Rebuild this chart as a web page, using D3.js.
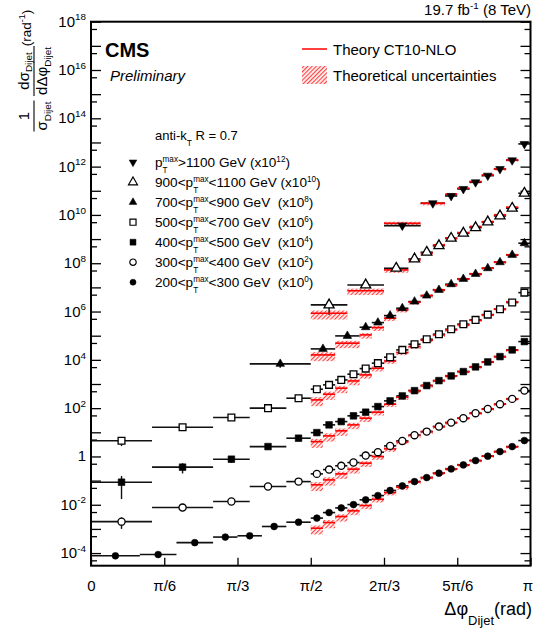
<!DOCTYPE html>
<html>
<head>
<meta charset="utf-8">
<script src="https://cdn.jsdelivr.net/npm/d3@7"></script>
<style>
body { margin: 0; background: #fff; }
text { font-family: "Liberation Sans", Arial, Helvetica, sans-serif; fill: #000; }
</style>
</head>
<body>
<div class="chart"></div>
<script>
// bin edges are in units of pi/36
const edges200 = [0, 4, 7, 10, 12, 14, 16, 18, 19, 20, 21, 22, 23, 24, 25, 26, 27, 28, 29, 30, 31, 32, 33, 34, 35, 36];
const edges300 = [0, 5, 10, 13, 16, 18, 19, 20, 21, 22, 23, 24, 25, 26, 27, 28, 29, 30, 31, 32, 33, 34, 35, 36];
const edges400 = [0, 5, 10, 13, 16, 18, 19, 20, 21, 22, 23, 24, 25, 26, 27, 28, 29, 30, 31, 32, 33, 34, 35, 36];
const edges500 = [0, 5, 10, 13, 16, 18, 19, 20, 21, 22, 23, 24, 25, 26, 27, 28, 29, 30, 31, 32, 33, 34, 35, 36];
const edges700 = [13, 18, 20, 22, 23, 24, 25, 26, 27, 28, 29, 30, 31, 32, 33, 34, 35, 36];
const edges900 = [18, 21, 24, 26, 27, 28, 29, 30, 31, 32, 33, 34, 35, 36];
const edges1100 = [24, 27, 29, 30, 31, 32, 33, 34, 35, 36];

// measured normalised cross sections (before the x10^n offsets)
const data200 = [7.7e-5, 8.7e-5, 2.7e-4, 4.6e-4, 5.2e-4, 1.26e-3, 1.9e-3, 2.8e-3, 4.75e-3, 7.4e-3, 1.02e-2, 1.6e-2, 2.4e-2, 3.9e-2, 6.05e-2, 9.1e-2, 0.134, 0.203, 0.306, 0.448, 0.675, 1.03, 1.59, 2.56, 4.54];
const data300 = [2.0e-5, 7.65e-5, 1.36e-4, 5.7e-4, 9.1e-4, 1.9e-3, 2.86e-3, 4.1e-3, 5.6e-3, 1.09e-2, 1.5e-2, 2.74e-2, 4.4e-2, 7.6e-2, 0.107, 0.173, 0.252, 0.384, 0.618, 0.93, 1.46, 2.42, 5.33];
const data400 = [8.6e-6, 3.6e-5, 7.7e-5, 2.56e-4, 5.7e-4, 9.7e-4, 2.03e-3, 2.78e-3, 4.8e-3, 6.8e-3, 1.16e-2, 2.0e-2, 3.2e-2, 5.3e-2, 8.6e-2, 0.138, 0.216, 0.326, 0.51, 0.82, 1.36, 2.58, 5.7];
const data500 = [4.5e-6, 1.63e-5, 4.1e-5, 1.0e-4, 2.58e-4, 6.1e-4, 9.2e-4, 1.48e-3, 2.55e-3, 4.34e-3, 7.3e-3, 1.29e-2, 2.58e-2, 4.44e-2, 7.1e-2, 0.115, 0.185, 0.3, 0.45, 0.745, 1.25, 2.38, 6.07];
const data700 = [6.8e-5, 2.84e-4, 9.8e-4, 2.24e-3, 3.48e-3, 6.8e-3, 1.37e-2, 2.58e-2, 4.56e-2, 7.85e-2, 0.135, 0.224, 0.36, 0.62, 1.1, 2.21, 6.73];
const data900 = [1.88e-4, 1.26e-3, 6.2e-3, 1.5e-2, 2.85e-2, 5.35e-2, 0.108, 0.175, 0.298, 0.51, 0.91, 1.89, 7.9];
const data1100 = [3.6e-3, 3.04e-2, 6.1e-2, 0.119, 0.225, 0.423, 0.8, 1.83, 8.7];

// relative statistical errors
const err200 = [0.08, 0.08, 0.06, 0.05, 0.05, 0.05, 0.04, 0.03, 0.03, 0.03, 0.03, 0.03, 0.03, 0.03, 0.03, 0.03, 0.03, 0.03, 0.03, 0.03, 0.03, 0.03, 0.03, 0.03, 0.03];
const err300 = [0.5, 0.12, 0.08, 0.05, 0.05, 0.04, 0.04, 0.04, 0.03, 0.03, 0.03, 0.03, 0.03, 0.03, 0.03, 0.03, 0.03, 0.03, 0.03, 0.03, 0.03, 0.03, 0.03];
const err400 = [0.8, 0.45, 0.3, 0.06, 0.05, 0.05, 0.04, 0.04, 0.03, 0.03, 0.03, 0.03, 0.03, 0.03, 0.03, 0.03, 0.03, 0.03, 0.03, 0.03, 0.03, 0.03, 0.03];
const err500 = [0.4, 0.1, 0.06, 0.05, 0.04, 0.04, 0.04, 0.03, 0.03, 0.03, 0.03, 0.03, 0.03, 0.03, 0.03, 0.03, 0.03, 0.03, 0.03, 0.03, 0.03, 0.03, 0.03];
const err700 = [0.3, 0.1, 0.08, 0.05, 0.05, 0.04, 0.04, 0.03, 0.03, 0.03, 0.03, 0.03, 0.03, 0.03, 0.03, 0.03, 0.03];
const err900 = [0.62, 0.15, 0.08, 0.05, 0.04, 0.04, 0.03, 0.03, 0.03, 0.03, 0.03, 0.03, 0.03];
const err1100 = [0.3, 0.08, 0.05, 0.04, 0.03, 0.03, 0.03, 0.03, 0.03];

// CT10-NLO prediction, null where there is none
const theory200 = [null, null, null, null, null, null, null, 1.07e-3, 1.83e-3, 3.25e-3, 5.6e-3, 9.3e-3, 1.7e-2, 3.2e-2, 5.35e-2, 8.9e-2, 0.132, 0.203, 0.306, 0.448, 0.675, 1.03, 1.59, 2.5, null];
const theory300 = [null, null, null, null, null, 6.7e-4, 1.07e-3, 1.9e-3, 2.98e-3, 5.27e-3, 9.9e-3, 2.06e-2, 4.0e-2, 7.5e-2, 0.106, 0.172, 0.25, 0.38, 0.61, 0.92, 1.45, 2.4, null];
const theory400 = [null, null, null, null, null, 4.1e-4, 7.1e-4, 1.15e-3, 2.03e-3, 3.84e-3, 6.8e-3, 1.46e-2, 2.84e-2, 5.3e-2, 8.6e-2, 0.138, 0.216, 0.326, 0.51, 0.82, 1.36, 2.5, null];
const theory500 = [null, null, null, null, null, 2.2e-4, 3.78e-4, 6.7e-4, 1.34e-3, 2.38e-3, 4.5e-3, 9.0e-3, 2.0e-2, 3.53e-2, 6.5e-2, 0.107, 0.174, 0.28, 0.436, 0.724, 1.25, 2.51, null];
const theory700 = [null, 1.6e-4, 4.9e-4, 1.08e-3, 2.16e-3, 5.3e-3, 1.17e-2, 2.43e-2, 4.56e-2, 7.85e-2, 0.126, 0.224, 0.36, 0.62, 1.1, 2.21, null];
const theory900 = [8.5e-5, 7.3e-4, 5.3e-3, 1.37e-2, 2.6e-2, 5.7e-2, 0.108, 0.185, 0.327, 0.525, 1.0, 2.08, null];
const theory1100 = [4.5e-3, 3.04e-2, 7.2e-2, 0.127, 0.24, 0.452, 0.8, 1.89, null];

// theory uncertainty band, by bin from pi/2 (index = lower edge - 18)
const thUncUp = [0.30, 0.28, 0.25, 0.22, 0.20, 0.18, 0.16, 0.15, 0.14, 0.13, 0.13, 0.12, 0.12, 0.12, 0.12, 0.12, 0.12];
const thUncDown = [0.45, 0.42, 0.38, 0.34, 0.30, 0.27, 0.24, 0.22, 0.20, 0.18, 0.17, 0.16, 0.15, 0.15, 0.14, 0.14, 0.14];

// pT ranges (GeV) and the offsets used to spread them out
const ptLow = [null, 900, 700, 500, 400, 300, 200];
const ptHigh = [1100, 1100, 900, 700, 500, 400, 300];
const powers = [12, 10, 8, 6, 4, 2, 0];

const xTickLabels = ['0', 'π/6', 'π/3', 'π/2', '2π/3', '5π/6', 'π'];

const width = 534, height = 634;
const svg = d3.select('.chart').append('svg').attr('width', width).attr('height', height);

const x = d3.scaleLinear().domain([0, Math.PI]).range([91, 530.5]);
const y = d3.scaleLog().domain([3e-5, 1e18]).range([565.7, 21.7]);
const piBin = Math.PI / 36;

// one entry per series, top of the legend first
const series = [
    {edges: edges1100, vals: data1100, errs: err1100, theory: theory1100, marker: {type: d3.symbolTriangle, size: 32, open: false, rot: 180}},
    {edges: edges900, vals: data900, errs: err900, theory: theory900, marker: {type: d3.symbolTriangle, size: 44, open: true, rot: 0}},
    {edges: edges700, vals: data700, errs: err700, theory: theory700, marker: {type: d3.symbolTriangle, size: 32, open: false, rot: 0}},
    {edges: edges500, vals: data500, errs: err500, theory: theory500, marker: {type: d3.symbolSquare, size: 46, open: true, rot: 0}},
    {edges: edges400, vals: data400, errs: err400, theory: theory400, marker: {type: d3.symbolSquare, size: 44, open: false, rot: 0}},
    {edges: edges300, vals: data300, errs: err300, theory: theory300, marker: {type: d3.symbolCircle, size: 40, open: true, rot: 0}},
    {edges: edges200, vals: data200, errs: err200, theory: theory200, marker: {type: d3.symbolCircle, size: 36, open: false, rot: 0}}
];
series.forEach((s, i) => s.power = powers[i]);

// hatch pattern for the theory band
const defs = svg.append('defs');
const pat = defs.append('pattern').attr('id', 'hatch').attr('patternUnits', 'userSpaceOnUse')
    .attr('width', 3).attr('height', 3).attr('patternTransform', 'rotate(45)');
pat.append('rect').attr('width', 3).attr('height', 3).attr('fill', '#fff4f4');
pat.append('line').attr('x1', 0.6).attr('y1', 0).attr('x2', 0.6).attr('y2', 3)
    .attr('stroke', '#ff3b3b').attr('stroke-width', 1.1);

// text with sub/superscripts, pieces laid out one after the other
function rich(parent, parts, size, opts) {
    opts = opts || {};
    const small = size * (opts.small || 0.68);
    const supDy = -size * (opts.sup || 0.45);
    const subDy = size * (opts.sub || 0.4);
    const g = parent.append('g');
    let cx = 0;
    parts.forEach(p => {
        if (typeof p === 'string') {
            const t = g.append('text').attr('x', cx).attr('y', 0)
                .style('font-size', size + 'px').style('white-space', 'pre').text(p);
            cx += t.node().getComputedTextLength();
        } else {
            let w = 0;
            if (p.sup !== undefined) {
                const t = g.append('text').attr('x', cx).attr('y', supDy).style('font-size', small + 'px').text(p.sup);
                w = Math.max(w, t.node().getComputedTextLength());
            }
            if (p.sub !== undefined) {
                const t = g.append('text').attr('x', cx).attr('y', subDy).style('font-size', small + 'px').text(p.sub);
                w = Math.max(w, t.node().getComputedTextLength());
            }
            cx += w;
        }
    });
    return {g: g, w: cx};
}

function place(r, px, py, anchor) {
    let dx = 0;
    if (anchor === 'end') dx = -r.w;
    if (anchor === 'middle') dx = -r.w / 2;
    r.g.attr('transform', `translate(${px + dx},${py})`);
}

function markerPath(m) {
    return d3.symbol().type(m.type).size(m.size)();
}

// axes: ticks point inwards, frame drawn separately
const xAxis = d3.axisBottom(x)
    .tickValues(d3.range(0, 7).map(i => i * Math.PI / 6))
    .tickSizeInner(-8).tickSizeOuter(0).tickPadding(15)
    .tickFormat((d, i) => xTickLabels[i]);
svg.append('g').attr('transform', `translate(0,${y.range()[0]})`).call(xAxis)
    .call(g => g.select('.domain').remove())
    .call(g => g.selectAll('line').attr('stroke-width', 1.3))
    .call(g => g.selectAll('text').attr('font-family', null).style('font-size', '15px'))
    // the last label sits on the edge of the page, nudge it in
    .call(g => g.selectAll('.tick:last-of-type text').attr('dx', -3));

const decades = d3.range(-4, 19).map(n => Math.pow(10, n));
const halves = d3.range(-4, 19).map(n => 5 * Math.pow(10, n - 1));

[[d3.axisLeft, x.range()[0]], [d3.axisRight, x.range()[1]]].forEach(([ax, px]) => {
    svg.append('g').attr('transform', `translate(${px},0)`)
        .call(ax(y).tickValues(decades).tickSizeInner(-10).tickSizeOuter(0).tickFormat(''))
        .call(g => g.select('.domain').remove())
        .call(g => g.selectAll('line').attr('stroke-width', 1.3));
    svg.append('g').attr('transform', `translate(${px},0)`)
        .call(ax(y).tickValues(halves).tickSizeInner(-6).tickSizeOuter(0).tickFormat(''))
        .call(g => g.select('.domain').remove())
        .call(g => g.selectAll('line').attr('stroke-width', 1.3));
});

// y tick labels every second decade
d3.range(-4, 19, 2).forEach(n => {
    const parts = n === 0 ? ['1'] : ['10', {sup: String(n)}];
    place(rich(svg, parts, 15, {small: 0.66, sup: 0.42}), 86, y(Math.pow(10, n)) + 5, 'end');
});

// the measurements and the prediction
const hatchLayer = svg.append('g');
const dataLayer = svg.append('g');
const theoryLayer = svg.append('g');
const markLayer = svg.append('g');

series.forEach(s => {
    const k = Math.pow(10, s.power);
    s.vals.forEach((v, i) => {
        const lo = s.edges[i], hi = s.edges[i + 1];
        const x0 = x(lo * piBin), x1 = x(hi * piBin), xc = x((lo + hi) / 2 * piBin);
        const t = s.theory[i];
        if (t !== null) {
            const u = lo - 18;
            hatchLayer.append('rect')
                .attr('x', x0).attr('width', x1 - x0)
                .attr('y', y(t * k * (1 + thUncUp[u])))
                .attr('height', y(t * k * (1 - thUncDown[u])) - y(t * k * (1 + thUncUp[u])))
                .attr('fill', 'url(#hatch)');
            theoryLayer.append('line')
                .attr('x1', x0).attr('x2', x1).attr('y1', y(t * k)).attr('y2', y(t * k))
                .attr('stroke', '#ff0000').attr('stroke-width', 1.6);
        }
        dataLayer.append('line')
            .attr('x1', x0).attr('x2', x1).attr('y1', y(v * k)).attr('y2', y(v * k))
            .attr('stroke', '#111').attr('stroke-width', 1.6);
        dataLayer.append('line')
            .attr('x1', xc).attr('x2', xc)
            .attr('y1', y(v * k * (1 + s.errs[i]))).attr('y2', y(v * k * (1 - s.errs[i])))
            .attr('stroke', '#111').attr('stroke-width', 1.4);
        markLayer.append('path')
            .attr('d', markerPath(s.marker))
            .attr('transform', `translate(${xc},${y(v * k)}) rotate(${s.marker.rot})`)
            .attr('fill', s.marker.open ? '#fff' : '#000')
            .attr('stroke', '#000').attr('stroke-width', s.marker.open ? 1.3 : 0.6);
    });
});

// frame
svg.append('rect')
    .attr('x', x.range()[0]).attr('y', y.range()[1])
    .attr('width', x.range()[1] - x.range()[0]).attr('height', y.range()[0] - y.range()[1])
    .attr('fill', 'none').attr('stroke', '#000').attr('stroke-width', 2);

// titles
place(rich(svg, ['Δφ', {sub: 'Dijet'}, '(rad)'], 18, {small: 0.72, sub: 0.55}), 532, 615, 'end');
place(rich(svg, ['19.7 fb', {sup: '-1'}, ' (8 TeV)'], 15, {small: 0.66, sup: 0.4}), 531, 15, 'end');

const yTitle = svg.append('g').attr('transform', 'translate(34,0) rotate(-90)');
function fraction(cx, num, den, size) {
    const a = rich(yTitle, num, size, {small: 0.66, sub: 0.22});
    const b = rich(yTitle, den, size, {small: 0.66, sub: 0.3});
    place(a, cx, -5.5, 'middle');
    place(b, cx, 12.5, 'middle');
    const w = Math.max(a.w, b.w);
    yTitle.append('line').attr('x1', cx - w / 2 - 1).attr('x2', cx + w / 2 + 1)
        .attr('y1', 0).attr('y2', 0).attr('stroke', '#000').attr('stroke-width', 1.1);
}
fraction(-116, ['1'], ['σ', {sub: 'Dijet'}], 15);
fraction(-71, ['dσ', {sub: 'Dijet'}], ['dΔφ', {sub: 'Dijet'}], 15);
place(rich(yTitle, ['(rad', {sup: '-1'}, ')'], 13.5, {small: 0.68, sup: 0.42}), -28, -3, 'middle');

svg.append('text').attr('x', 105).attr('y', 57)
    .style('font-size', '20px').style('font-weight', 'bold').text('CMS');
svg.append('text').attr('x', 110).attr('y', 81)
    .style('font-size', '15px').style('font-style', 'italic').text('Preliminary');

// legend for the pT bins
const legend = svg.append('g');
place(rich(legend, ['anti-k', {sub: 'T'}, ' R = 0.7'], 13, {small: 0.65, sub: 0.45}), 155, 140, 'start');
series.forEach((s, i) => {
    const by = 166.7 + i * 20;
    const pt = {sub: 'T', sup: 'max'};
    const gap = s.power >= 10 ? ' ' : '  ';
    const parts = ptLow[i] === null
        ? ['p', pt, '>' + ptHigh[i] + ' GeV' + gap + '(x10', {sup: String(s.power)}, ')']
        : [ptLow[i] + '<p', pt, '<' + ptHigh[i] + ' GeV' + gap + '(x10', {sup: String(s.power)}, ')'];
    place(rich(legend, parts, 13.6, {small: 0.6, sup: 0.33, sub: 0.48}), 155, by, 'start');
    legend.append('path')
        .attr('d', d3.symbol().type(s.marker.type).size(s.marker.size * 0.8)())
        .attr('transform', `translate(133,${by - 4.5}) rotate(${s.marker.rot})`)
        .attr('fill', s.marker.open ? '#fff' : '#000')
        .attr('stroke', '#000').attr('stroke-width', s.marker.open ? 1.2 : 0.5);
});

// legend for the theory
svg.append('line').attr('x1', 302).attr('x2', 327).attr('y1', 49).attr('y2', 49)
    .attr('stroke', '#ff0000').attr('stroke-width', 1.5);
svg.append('text').attr('x', 333).attr('y', 54.5).style('font-size', '15px').text('Theory CT10-NLO');
svg.append('rect').attr('x', 302).attr('y', 66).attr('width', 25).attr('height', 18)
    .attr('fill', 'url(#hatch)');
svg.append('text').attr('x', 333).attr('y', 81).style('font-size', '15px').text('Theoretical uncertainties');
</script>
</body>
</html>
